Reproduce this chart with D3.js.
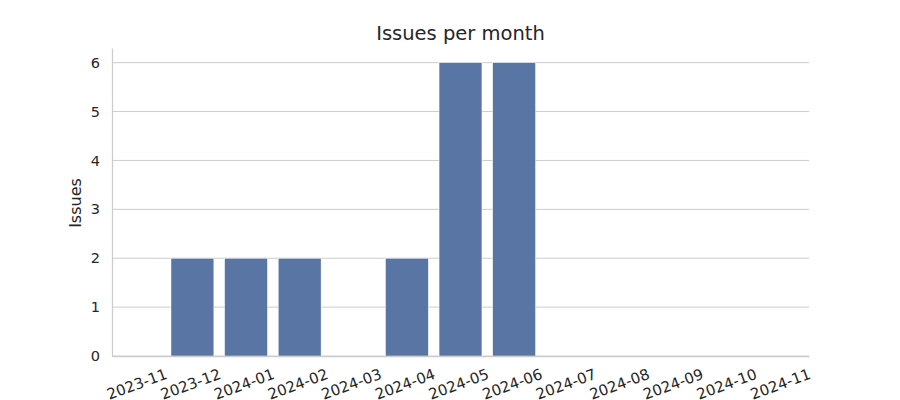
<!DOCTYPE html>
<html>
<head>
<meta charset="utf-8">
<script src="https://cdn.jsdelivr.net/npm/d3@7"></script>
<style>
  body { margin: 0; background: #fff; }
  text { font-family: "DejaVu Sans", sans-serif; fill: #262626; }
</style>
</head>
<body>
<div id="chart"></div>
<script>
// data
const months = ["2023-11", "2023-12", "2024-01", "2024-02", "2024-03", "2024-04", "2024-05",
  "2024-06", "2024-07", "2024-08", "2024-09", "2024-10", "2024-11"];
const issues = [0, 2, 2, 2, 0, 2, 6, 6, 0, 0, 0, 0, 0];
const yTicks = [0, 1, 2, 3, 4, 5, 6];

const width = 900, height = 400;
const mLeft = 112, mRight = 809, mTop = 48, mBottom = 356;

const svg = d3.select("#chart").append("svg")
  .attr("width", width)
  .attr("height", height);

const x = d3.scaleBand()
  .domain(months)
  .range([mLeft, mRight])
  .paddingInner(0.2)
  .paddingOuter(0.1);

const y = d3.scaleLinear()
  .domain([0, 6.3])
  .range([mBottom, mTop]);

// grid
svg.append("g")
  .selectAll("line")
  .data(yTicks)
  .enter()
  .append("line")
  .attr("x1", mLeft)
  .attr("x2", mRight)
  .attr("y1", d => y(d))
  .attr("y2", d => y(d))
  .attr("stroke", "#cccccc")
  .attr("stroke-width", 1);

// bars
svg.append("g")
  .selectAll("rect")
  .data(months.map((m, i) => ({ m: m, v: issues[i] })))
  .enter()
  .append("rect")
  .attr("x", d => x(d.m))
  .attr("y", d => y(d.v))
  .attr("width", x.bandwidth())
  .attr("height", d => mBottom - y(d.v))
  .attr("fill", "#5875a4")
  .attr("stroke", "#fff")
  .attr("stroke-width", 0.5);

// axes
const yAxis = svg.append("g")
  .attr("transform", `translate(${mLeft},0)`)
  .call(d3.axisLeft(y).tickValues(yTicks).tickFormat(d3.format("d")).tickSize(0).tickPadding(12));
yAxis.select(".domain").attr("stroke", "#cccccc").attr("stroke-width", 1.25);
yAxis.selectAll("text").style("font-size", "14.5px");

const xAxis = svg.append("g")
  .attr("transform", `translate(0,${mBottom})`)
  .call(d3.axisBottom(x).tickSize(0).tickPadding(0));
xAxis.select(".domain").attr("stroke", "#cccccc").attr("stroke-width", 1.25);
xAxis.selectAll("text")
  .style("font-size", "15px")
  .attr("text-anchor", "middle")
  .attr("dy", null)
  .attr("y", 0)
  .attr("transform", "translate(0,33) rotate(-20)");

// y label
svg.append("text")
  .attr("transform", `translate(81,${(mTop + mBottom) / 2 + 1}) rotate(-90)`)
  .attr("text-anchor", "middle")
  .style("font-size", "16px")
  .text("Issues");

// title
svg.append("text")
  .attr("x", (mLeft + mRight) / 2)
  .attr("y", 40)
  .attr("text-anchor", "middle")
  .style("font-size", "19.5px")
  .text("Issues per month");
</script>
</body>
</html>
